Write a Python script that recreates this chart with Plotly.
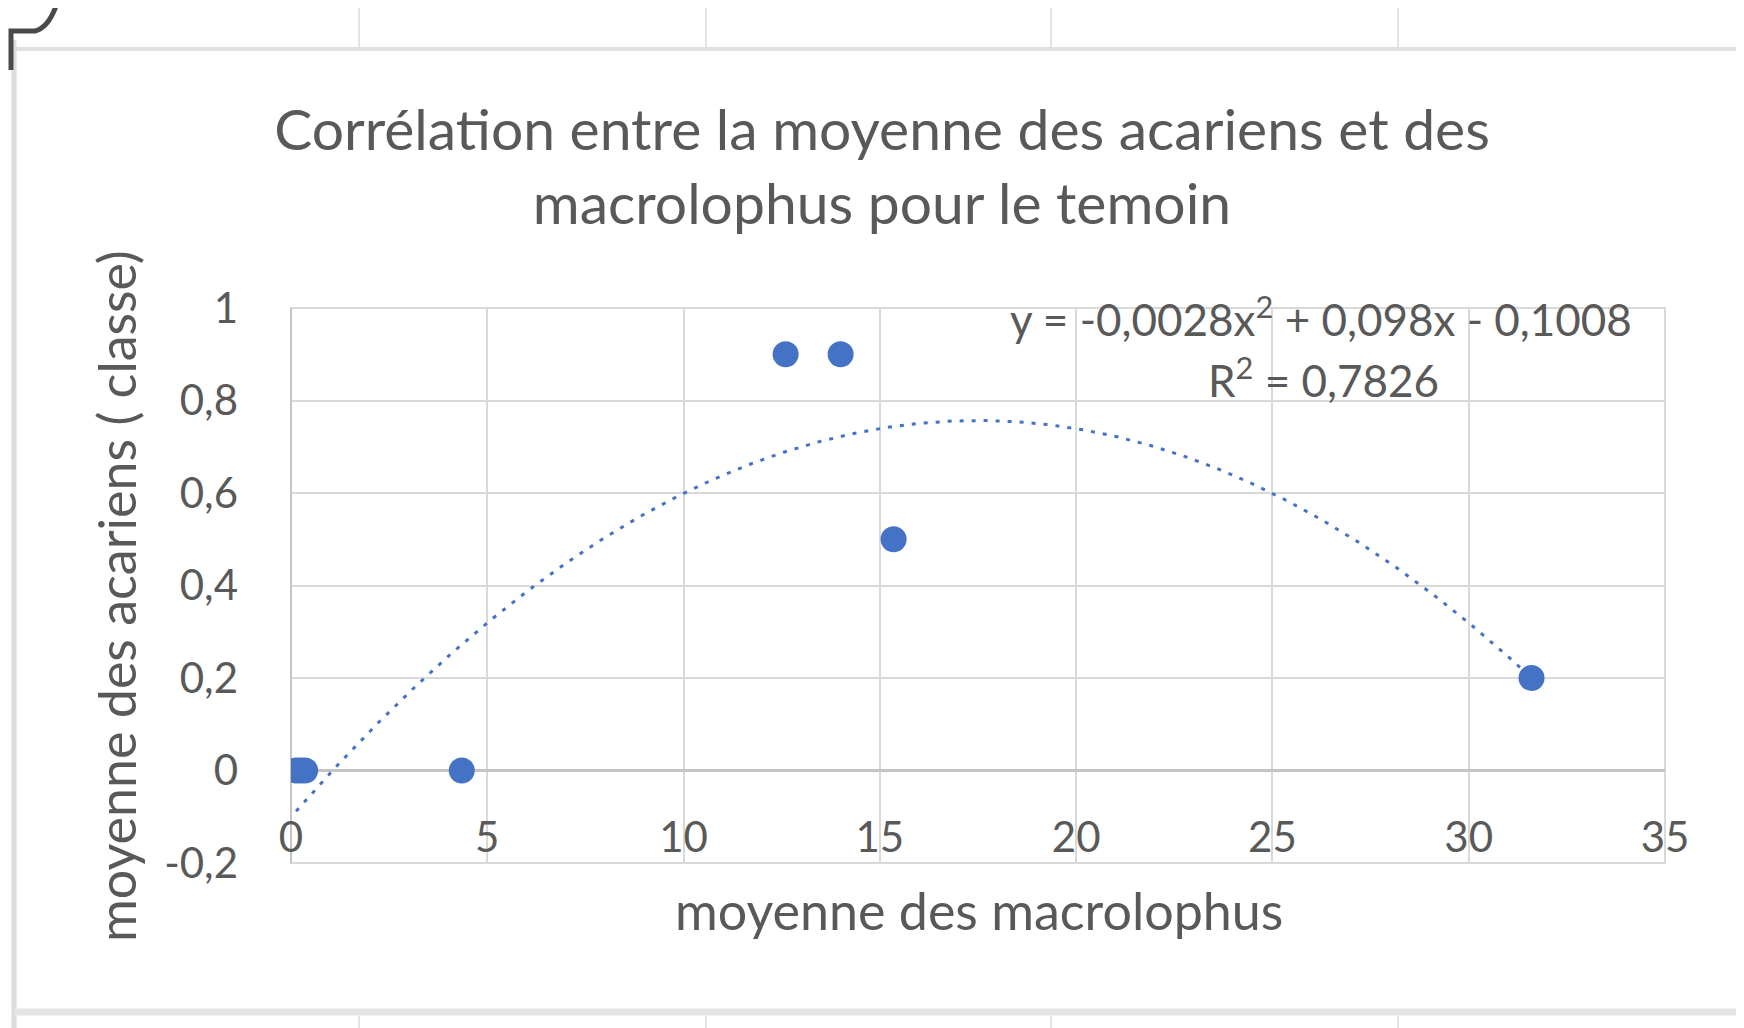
import numpy as np
import plotly.graph_objects as go

# ---- data ----
macrolophus = [0.13, 0.25, 0.36, 4.35, 12.6, 14.0, 15.35, 31.6]
acariens = [0.0, 0.0, 0.0, 0.0, 0.9, 0.9, 0.5, 0.2]
trend_coeffs = [-0.0028, 0.098, -0.1008]  # y = a x^2 + b x + c (Excel trendline)
y_tickvals = [-0.2, 0, 0.2, 0.4, 0.6, 0.8, 1]
y_ticktext = ["-0,2", "0", "0,2", "0,4", "0,6", "0,8", "1"]
x_tickvals = [0, 5, 10, 15, 20, 25, 30, 35]
x_ticktext = ["0", "5", "10", "15", "20", "25", "30", "35"]

title_text = "Corrélation entre la moyenne des acariens et des<br>macrolophus pour le temoin"
xtitle = "moyenne des macrolophus"
ytitle = "moyenne des acariens ( classe)"
eq_text = "y = -0,0028x<sup>2</sup> + 0,098x - 0,1008"
r2_text = "R<sup>2</sup> = 0,7826"

W, H = 1744, 1028
OFF = 8  # page body margin of the html page
# plot area in screen pixels
SL, SR, ST, SB = 291, 1665, 308, 863
L, R, T, B = SL - OFF, SR - OFF, ST - OFF, SB - OFF
FONT = "Lato"
GREY = "#595959"
BLUE = "#4472C4"


def px(xs_):
    return (xs_ - SL) / (SR - SL)


def py(ys_):
    return (SB - ys_) / (SB - ST)


xs = np.linspace(min(macrolophus), max(macrolophus), 300)
ys = np.polyval(trend_coeffs, xs)

fig = go.Figure()
fig.add_trace(go.Scatter(x=xs, y=ys, mode="lines",
                         line=dict(color=BLUE, width=3, dash="4px,8px"),
                         hoverinfo="skip", showlegend=False))
fig.add_trace(go.Scatter(x=macrolophus, y=acariens, mode="markers",
                         marker=dict(color=BLUE, size=26, line=dict(width=0)),
                         showlegend=False))

shapes = []
# spreadsheet cell lines around the chart
shapes.append(dict(type="line", xref="paper", yref="paper", x0=px(15), x1=px(W + 20), y0=py(49), y1=py(49),
                   line=dict(color="#e0e0e0", width=4), layer="below"))
for cx in [359, 706, 1051, 1398]:
    shapes.append(dict(type="line", xref="paper", yref="paper", x0=px(cx), x1=px(cx), y0=py(0), y1=py(47),
                       line=dict(color="#e3e3e3", width=2), layer="below"))
    shapes.append(dict(type="line", xref="paper", yref="paper", x0=px(cx), x1=px(cx), y0=py(1016), y1=py(H),
                       line=dict(color="#e3e3e3", width=2), layer="below"))
shapes.append(dict(type="line", xref="paper", yref="paper", x0=px(14), x1=px(14), y0=py(40), y1=py(H),
                   line=dict(color="#dcdcdc", width=5), layer="below"))
shapes.append(dict(type="line", xref="paper", yref="paper", x0=px(14), x1=px(W + 20), y0=py(1012), y1=py(1012),
                   line=dict(color="#e4e4e4", width=7), layer="below"))
# selection cursor at top-left
shapes.append(dict(type="path", xref="paper", yref="paper",
                   path=f"M {px(11)} {py(70)} L {px(11)} {py(31)} L {px(35)} {py(31)} "
                        f"Q {px(48)} {py(28)} {px(56)} {py(6)}",
                   line=dict(color="#4a4a4a", width=5)))

annotations = [
    dict(text=eq_text, xref="paper", yref="paper", x=px(1321), y=py(316), xanchor="center", yanchor="middle",
         showarrow=False, font=dict(family=FONT, size=44, color=GREY)),
    dict(text=r2_text, xref="paper", yref="paper", x=px(1323), y=py(377), xanchor="center", yanchor="middle",
         showarrow=False, font=dict(family=FONT, size=44, color=GREY)),
    dict(text=xtitle, xref="paper", yref="paper", x=px(979), y=py(910), xanchor="center", yanchor="middle",
         showarrow=False, font=dict(family=FONT, size=52, color=GREY)),
    dict(text=ytitle, xref="paper", yref="paper", x=px(116), y=py(596), xanchor="center", yanchor="middle",
         textangle=-90, showarrow=False, font=dict(family=FONT, size=52, color=GREY)),
]

fig.update_layout(
    width=W, height=H,
    margin=dict(l=L, r=W - R, t=T, b=H - B, pad=0),
    paper_bgcolor="white", plot_bgcolor="white",
    font=dict(family=FONT, color=GREY),
    title=dict(text=title_text, xref="container", yref="container", x=(882 - OFF) / W, xanchor="center",
               y=1 - (150 - OFF) / H, yanchor="top", font=dict(family=FONT, size=57, color=GREY)),
    shapes=shapes, annotations=annotations,
    showlegend=False,
)
fig.update_xaxes(range=[0, 35], tickvals=x_tickvals, ticktext=x_ticktext,
                 showgrid=True, gridcolor="#d9d9d9", gridwidth=2,
                 zeroline=True, zerolinecolor="#c4c4c4", zerolinewidth=2,
                 showline=False, ticks="", ticklabelposition="inside", ticklabeloverflow="allow",
                 tickfont=dict(family=FONT, size=42, color=GREY))
fig.update_yaxes(range=[-0.2, 1], tickvals=y_tickvals, ticktext=y_ticktext,
                 showgrid=True, gridcolor="#d9d9d9", gridwidth=2,
                 zeroline=True, zerolinecolor="#c4c4c4", zerolinewidth=3,
                 showline=False, ticks="", ticklabelstandoff=52,
                 tickfont=dict(family=FONT, size=42, color=GREY))
fig.add_shape(type="rect", xref="paper", yref="paper", x0=0, x1=1, y0=0, y1=1,
              line=dict(color="#d9d9d9", width=2), layer="below")

fig.write_html("out.html")
